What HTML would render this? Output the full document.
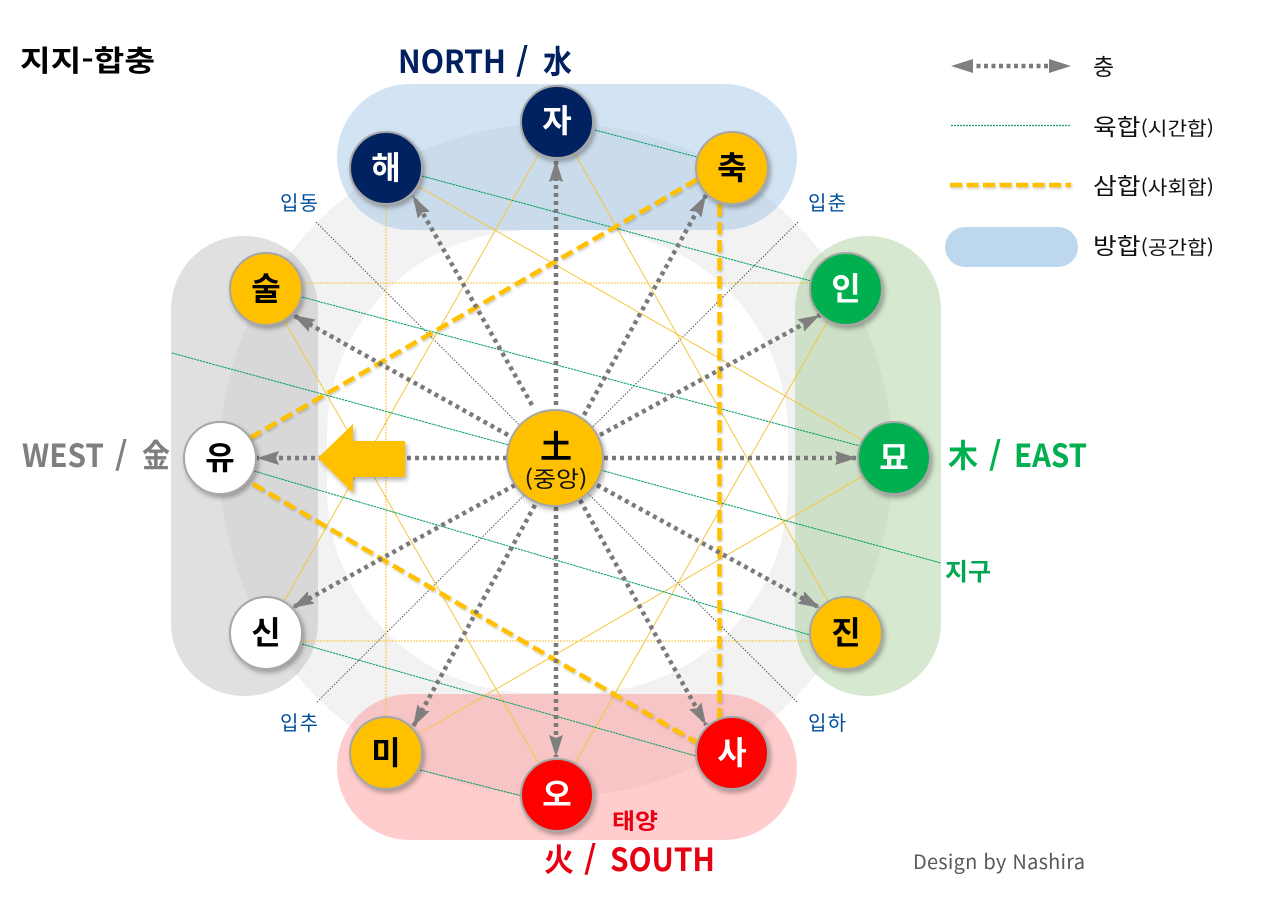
<!DOCTYPE html>
<html lang="ko"><head><meta charset="utf-8"><title>지지-합충</title>
<style>
html,body{margin:0;padding:0;background:#fff}
svg{display:block}
text{font-family:"Noto Sans CJK KR","Liberation Sans",sans-serif}
.b{font-weight:700}
.n{font-weight:700;font-size:32px;text-anchor:middle}
.m{font-size:20px;fill:#004f9f}
.l{font-size:23px;fill:#111}
.s{font-size:19px}
.h{font-weight:700;font-size:32px}
</style></head><body>
<svg width="1280" height="921" viewBox="0 0 1280 921" xmlns="http://www.w3.org/2000/svg">
<defs>
<marker id="h" markerUnits="userSpaceOnUse" markerWidth="24" markerHeight="16" refX="22" refY="8" orient="auto"><path d="M0 1 L22 8 L0 15 L3 8Z" fill="#7f7f7f"/></marker>
<filter id="sh" x="-30%" y="-30%" width="170%" height="170%"><feDropShadow dx="2" dy="3" stdDeviation="2.5" flood-color="#000" flood-opacity=".3"/></filter>
<filter id="ls" filterUnits="userSpaceOnUse" x="0" y="0" width="1280" height="921"><feDropShadow dx="1" dy="1.5" stdDeviation="1.2" flood-color="#000" flood-opacity=".2"/></filter>
</defs>
<rect width="1280" height="921" fill="#fff"/>

<circle cx="556" cy="460" r="337" fill="#f2f2f2"/>
<rect x="327" y="230" width="461" height="463" rx="205" fill="#fff"/>

<rect x="337" y="84" width="460" height="146" rx="73" fill="#8fb9e1" fill-opacity=".4"/>
<rect x="337" y="694" width="460" height="146" rx="73" fill="#ff8282" fill-opacity=".4"/>
<rect x="171" y="236" width="147" height="460" rx="73" fill="#b2b2b2" fill-opacity=".4"/>
<rect x="795" y="236" width="146" height="460" rx="73" fill="#99c687" fill-opacity=".4"/>

<g stroke="#555" stroke-width="1" stroke-dasharray="1.5 1.5" fill="none">
<line x1="316" y1="222" x2="798" y2="703"/>
<line x1="798" y1="222" x2="316" y2="703"/>
</g>

<g stroke="#f4c63c" stroke-width="1" fill="none">
<line x1="386" y1="168" x2="386" y2="753" stroke-dasharray="2 1"/>
<line x1="266" y1="283" x2="846" y2="283" stroke-dasharray="2 1"/>
<line x1="266" y1="641" x2="846" y2="641" stroke-dasharray="2 1"/>
<line x1="557" y1="122" x2="266" y2="633"/>
<line x1="557" y1="122" x2="846" y2="633"/>
<line x1="557" y1="795" x2="266" y2="289"/>
<line x1="557" y1="795" x2="846" y2="289"/>
<line x1="386" y1="168" x2="894" y2="458"/>
<line x1="386" y1="753" x2="894" y2="458"/>
</g>

<g stroke="#00a060" stroke-width="1" stroke-dasharray="2.5 .7" fill="none">
<line x1="595" y1="130" x2="697" y2="157"/>
<line x1="422" y1="176" x2="811" y2="281"/>
<line x1="302" y1="297" x2="860" y2="446"/>
<line x1="172" y1="353" x2="941" y2="563"/>
<line x1="254" y1="471" x2="810" y2="635"/>
<line x1="302" y1="644" x2="696" y2="756"/>
<line x1="420" y1="770" x2="522" y2="796"/>
</g>

<g stroke="#ffc000" stroke-width="4.5" stroke-dasharray="12.500 5.500" fill="none" filter="url(#ls)">
<line x1="250" y1="438" x2="698" y2="179"/>
<line x1="253" y1="484" x2="696" y2="742"/>
<line x1="719.5" y1="204" x2="719.5" y2="720"/>
</g>

<g stroke="#7a7a7a" stroke-width="4.5" stroke-dasharray="4 4" fill="none">
<line x1="532" y1="405" x2="413" y2="196" marker-end="url(#h)"/>
<line x1="556" y1="405" x2="556" y2="160" marker-end="url(#h)"/>
<line x1="584" y1="415" x2="706" y2="195" marker-end="url(#h)"/>
<line x1="508" y1="435" x2="293" y2="315" marker-end="url(#h)"/>
<line x1="600" y1="435" x2="820" y2="315" marker-end="url(#h)"/>
<line x1="507" y1="458" x2="257" y2="458" marker-end="url(#h)"/>
<line x1="604" y1="458" x2="857" y2="458" marker-end="url(#h)"/>
<line x1="515" y1="485" x2="292" y2="608" marker-end="url(#h)"/>
<line x1="597" y1="485" x2="820" y2="608" marker-end="url(#h)"/>
<line x1="535" y1="505" x2="413" y2="727" marker-end="url(#h)"/>
<line x1="580" y1="500" x2="706" y2="725" marker-end="url(#h)"/>
<line x1="556" y1="507" x2="556" y2="757" marker-end="url(#h)"/>
</g>

<polygon points="318,458 353,424 353,441 405,441 405,477 353,477 353,493" fill="#ffc000" filter="url(#sh)"/>

<g stroke="#a6a6a6" stroke-width="2" filter="url(#sh)">
<circle cx="557" cy="122" r="36" fill="#002060"/>
<circle cx="386" cy="168" r="36" fill="#002060"/>
<circle cx="732" cy="168" r="36" fill="#ffc000"/>
<circle cx="266" cy="289" r="36" fill="#ffc000"/>
<circle cx="846" cy="289" r="36" fill="#00b050"/>
<circle cx="220" cy="458" r="36" fill="#fff"/>
<circle cx="894" cy="458" r="36" fill="#00b050"/>
<circle cx="266" cy="633" r="36" fill="#fff"/>
<circle cx="846" cy="633" r="36" fill="#ffc000"/>
<circle cx="386" cy="753" r="36" fill="#ffc000"/>
<circle cx="732" cy="753" r="36" fill="#f00"/>
<circle cx="557" cy="795" r="36" fill="#f00"/>
<circle cx="555" cy="458" r="48" fill="#ffc000"/>
</g>

<text class="n" x="557" y="132" fill="#fff">자</text>
<text class="n" x="386" y="179" fill="#fff">해</text>
<text class="n" x="732" y="179" fill="#000">축</text>
<text class="n" x="266" y="300" fill="#000">술</text>
<text class="n" x="846" y="300" fill="#fff">인</text>
<text class="n" x="220" y="469" fill="#000">유</text>
<text class="n" x="894" y="469" fill="#fff">묘</text>
<text class="n" x="266" y="644" fill="#000">신</text>
<text class="n" x="846" y="644" fill="#000">진</text>
<text class="n" x="386" y="764" fill="#000">미</text>
<text class="n" x="732" y="764" fill="#fff">사</text>
<text class="n" x="557" y="806" fill="#fff">오</text>
<text class="n" x="556" y="458" fill="#000">土</text>
<text x="556" y="487" font-size="22" text-anchor="middle" fill="#111" textLength="63" lengthAdjust="spacingAndGlyphs">(중앙)</text>

<text class="b" x="20" y="71" font-size="29" fill="#000" textLength="135" lengthAdjust="spacingAndGlyphs">지지-합충</text>

<g fill="#002060" class="h">
<text class="h" x="398" y="73" textLength="108" lengthAdjust="spacingAndGlyphs">NORTH</text>
<text class="h" x="516" y="73">/</text>
<text class="h" x="543" y="73" textLength="29" lengthAdjust="spacingAndGlyphs" font-weight="500">水</text>
</g>
<g fill="#7f7f7f">
<text class="h" x="22" y="467" textLength="82" lengthAdjust="spacingAndGlyphs">WEST</text>
<text class="h" x="115" y="467">/</text>
<text class="h" x="142" y="467" textLength="28" lengthAdjust="spacingAndGlyphs">金</text>
</g>
<g fill="#00b050">
<text class="h" x="948" y="467" textLength="30" lengthAdjust="spacingAndGlyphs">木</text>
<text class="h" x="989" y="467">/</text>
<text class="h" x="1014" y="467" textLength="73" lengthAdjust="spacingAndGlyphs">EAST</text>
</g>
<g fill="#e60012">
<text class="h" x="544" y="871" textLength="30" lengthAdjust="spacingAndGlyphs">火</text>
<text class="h" x="584" y="871">/</text>
<text class="h" x="610" y="871" textLength="105" lengthAdjust="spacingAndGlyphs">SOUTH</text>
</g>

<text class="b" x="945" y="580" font-size="24" fill="#00a651" textLength="46" lengthAdjust="spacingAndGlyphs">지구</text>
<text class="b" x="612" y="829" font-size="22" fill="#e60012" textLength="46" lengthAdjust="spacingAndGlyphs">태양</text>
<text class="m" x="280" y="210" textLength="38">입동</text>
<text class="m" x="808" y="210" textLength="38">입춘</text>
<text class="m" x="280" y="730" textLength="38">입추</text>
<text class="m" x="808" y="730" textLength="38">입하</text>
<text x="913" y="869" font-size="20" fill="#595959" textLength="172" lengthAdjust="spacing">Design by Nashira</text>

<line x1="969" y1="66" x2="1053" y2="66" stroke="#7a7a7a" stroke-width="4.5" stroke-dasharray="4 3.500"/>
<polygon points="951,66 973,59 973,73" fill="#7f7f7f"/>
<polygon points="1071,66 1049,59 1049,73" fill="#7f7f7f"/>
<line x1="951" y1="125.500" x2="1071" y2="125.500" stroke="#12a56e" stroke-width="1.2" stroke-dasharray="2 1"/>
<line x1="950" y1="185" x2="1071" y2="185" stroke="#ffc000" stroke-width="4.500" stroke-dasharray="12 4.500" filter="url(#ls)"/>
<rect x="945" y="227" width="133" height="40" rx="20" fill="#bdd7ee"/>

<text class="l" x="1093" y="75">충</text>
<text class="l" x="1093" y="135" textLength="121" lengthAdjust="spacingAndGlyphs">육합<tspan class="s">(시간합)</tspan></text>
<text class="l" x="1093" y="194" textLength="121" lengthAdjust="spacingAndGlyphs">삼합<tspan class="s">(사회합)</tspan></text>
<text class="l" x="1093" y="254" textLength="121" lengthAdjust="spacingAndGlyphs">방합<tspan class="s">(공간합)</tspan></text>
</svg>
</body></html>
